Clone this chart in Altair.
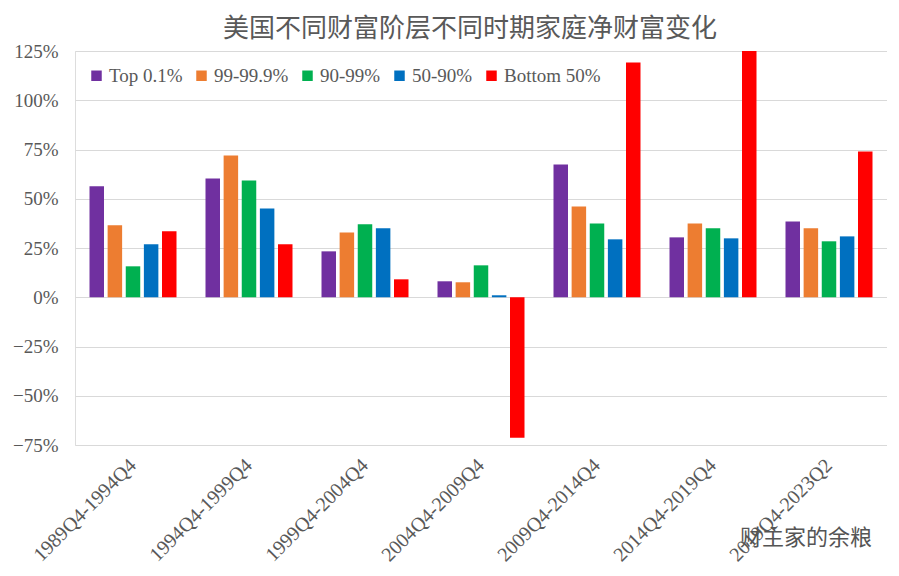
import altair as alt
import pandas as pd

periods = ["1989Q4-1994Q4", "1994Q4-1999Q4", "1999Q4-2004Q4", "2004Q4-2009Q4",
           "2009Q4-2014Q4", "2014Q4-2019Q4", "2019Q4-2023Q2"]
series = ["Top 0.1%", "99-99.9%", "90-99%", "50-90%", "Bottom 50%"]
colors = ["#7030A0", "#ED7D31", "#00B050", "#0070C0", "#FF0000"]

top01 = [0.563, 0.603, 0.233, 0.081, 0.674, 0.304, 0.385]
p99_999 = [0.365, 0.720, 0.329, 0.076, 0.461, 0.375, 0.350]
p90_99 = [0.157, 0.593, 0.370, 0.162, 0.375, 0.350, 0.284]
p50_90 = [0.269, 0.451, 0.350, 0.010, 0.294, 0.299, 0.309]
bottom50 = [0.335, 0.269, 0.091, -0.713, 1.191, 1.25, 0.740]

y_ticks = [-0.75, -0.5, -0.25, 0, 0.25, 0.5, 0.75, 1.0, 1.25]
title_text = "美国不同财富阶层不同时期家庭净财富变化"
watermark = "财主家的余粮"

rows = []
for s, vals in zip(series, [top01, p99_999, p90_99, p50_90, bottom50]):
    for p, v in zip(periods, vals):
        rows.append({"period": p, "series": s, "value": v})
df = pd.DataFrame(rows)

label_font = "Times New Roman"
gray = "#595959"

bars = alt.Chart(df).mark_bar().encode(
    x=alt.X("period:N", sort=periods, title=None,
            scale=alt.Scale(paddingInner=0.25, paddingOuter=0.125),
            axis=alt.Axis(labelAngle=-45, labelAlign="right", labelBaseline="middle",
                          labelFont=label_font, labelFontSize=20, labelColor=gray,
                          labelPadding=17, domain=False, ticks=False, labelLimit=300)),
    xOffset=alt.XOffset("series:N", sort=series, scale=alt.Scale(paddingInner=0.2)),
    y=alt.Y("value:Q", title=None,
            scale=alt.Scale(domain=[-0.75, 1.25], nice=False, zero=True),
            axis=alt.Axis(values=y_ticks, format=".0%", labelFont=label_font,
                          labelFontSize=19, labelColor=gray, labelPadding=17,
                          domain=False, ticks=False, gridColor="#D9D9D9", gridWidth=1)),
    color=alt.Color("series:N", sort=series,
                    scale=alt.Scale(domain=series, range=colors),
                    legend=alt.Legend(title=None, orient="none", legendX=12, legendY=15,
                                      direction="horizontal", symbolType="square",
                                      symbolSize=110, symbolStrokeWidth=0,
                                      labelFont=label_font, labelFontSize=19,
                                      labelColor=gray, labelOffset=3, columnPadding=9,
                                      labelLimit=300)),
)

wm = alt.Chart(pd.DataFrame({"t": [watermark]})).mark_text(
    font="Noto Sans CJK SC", fontSize=22, color="#555555", align="left", baseline="middle"
).encode(x=alt.value(665), y=alt.value(487), text="t:N")

chart = alt.layer(bars, wm).properties(
    width=812, height=394,
    title=alt.TitleParams(title_text, font="Noto Sans CJK SC", fontSize=26,
                          fontWeight="normal", color=gray, anchor="middle",
                          dx=-11, offset=0),
    autosize=alt.AutoSizeParams(type="none"),
    padding={"left": 67, "top": 43, "right": 0, "bottom": 125},
).configure_view(stroke=None).configure(background="white", font=label_font)

chart.save("out.html", embed_options={"renderer": "svg", "actions": False})
